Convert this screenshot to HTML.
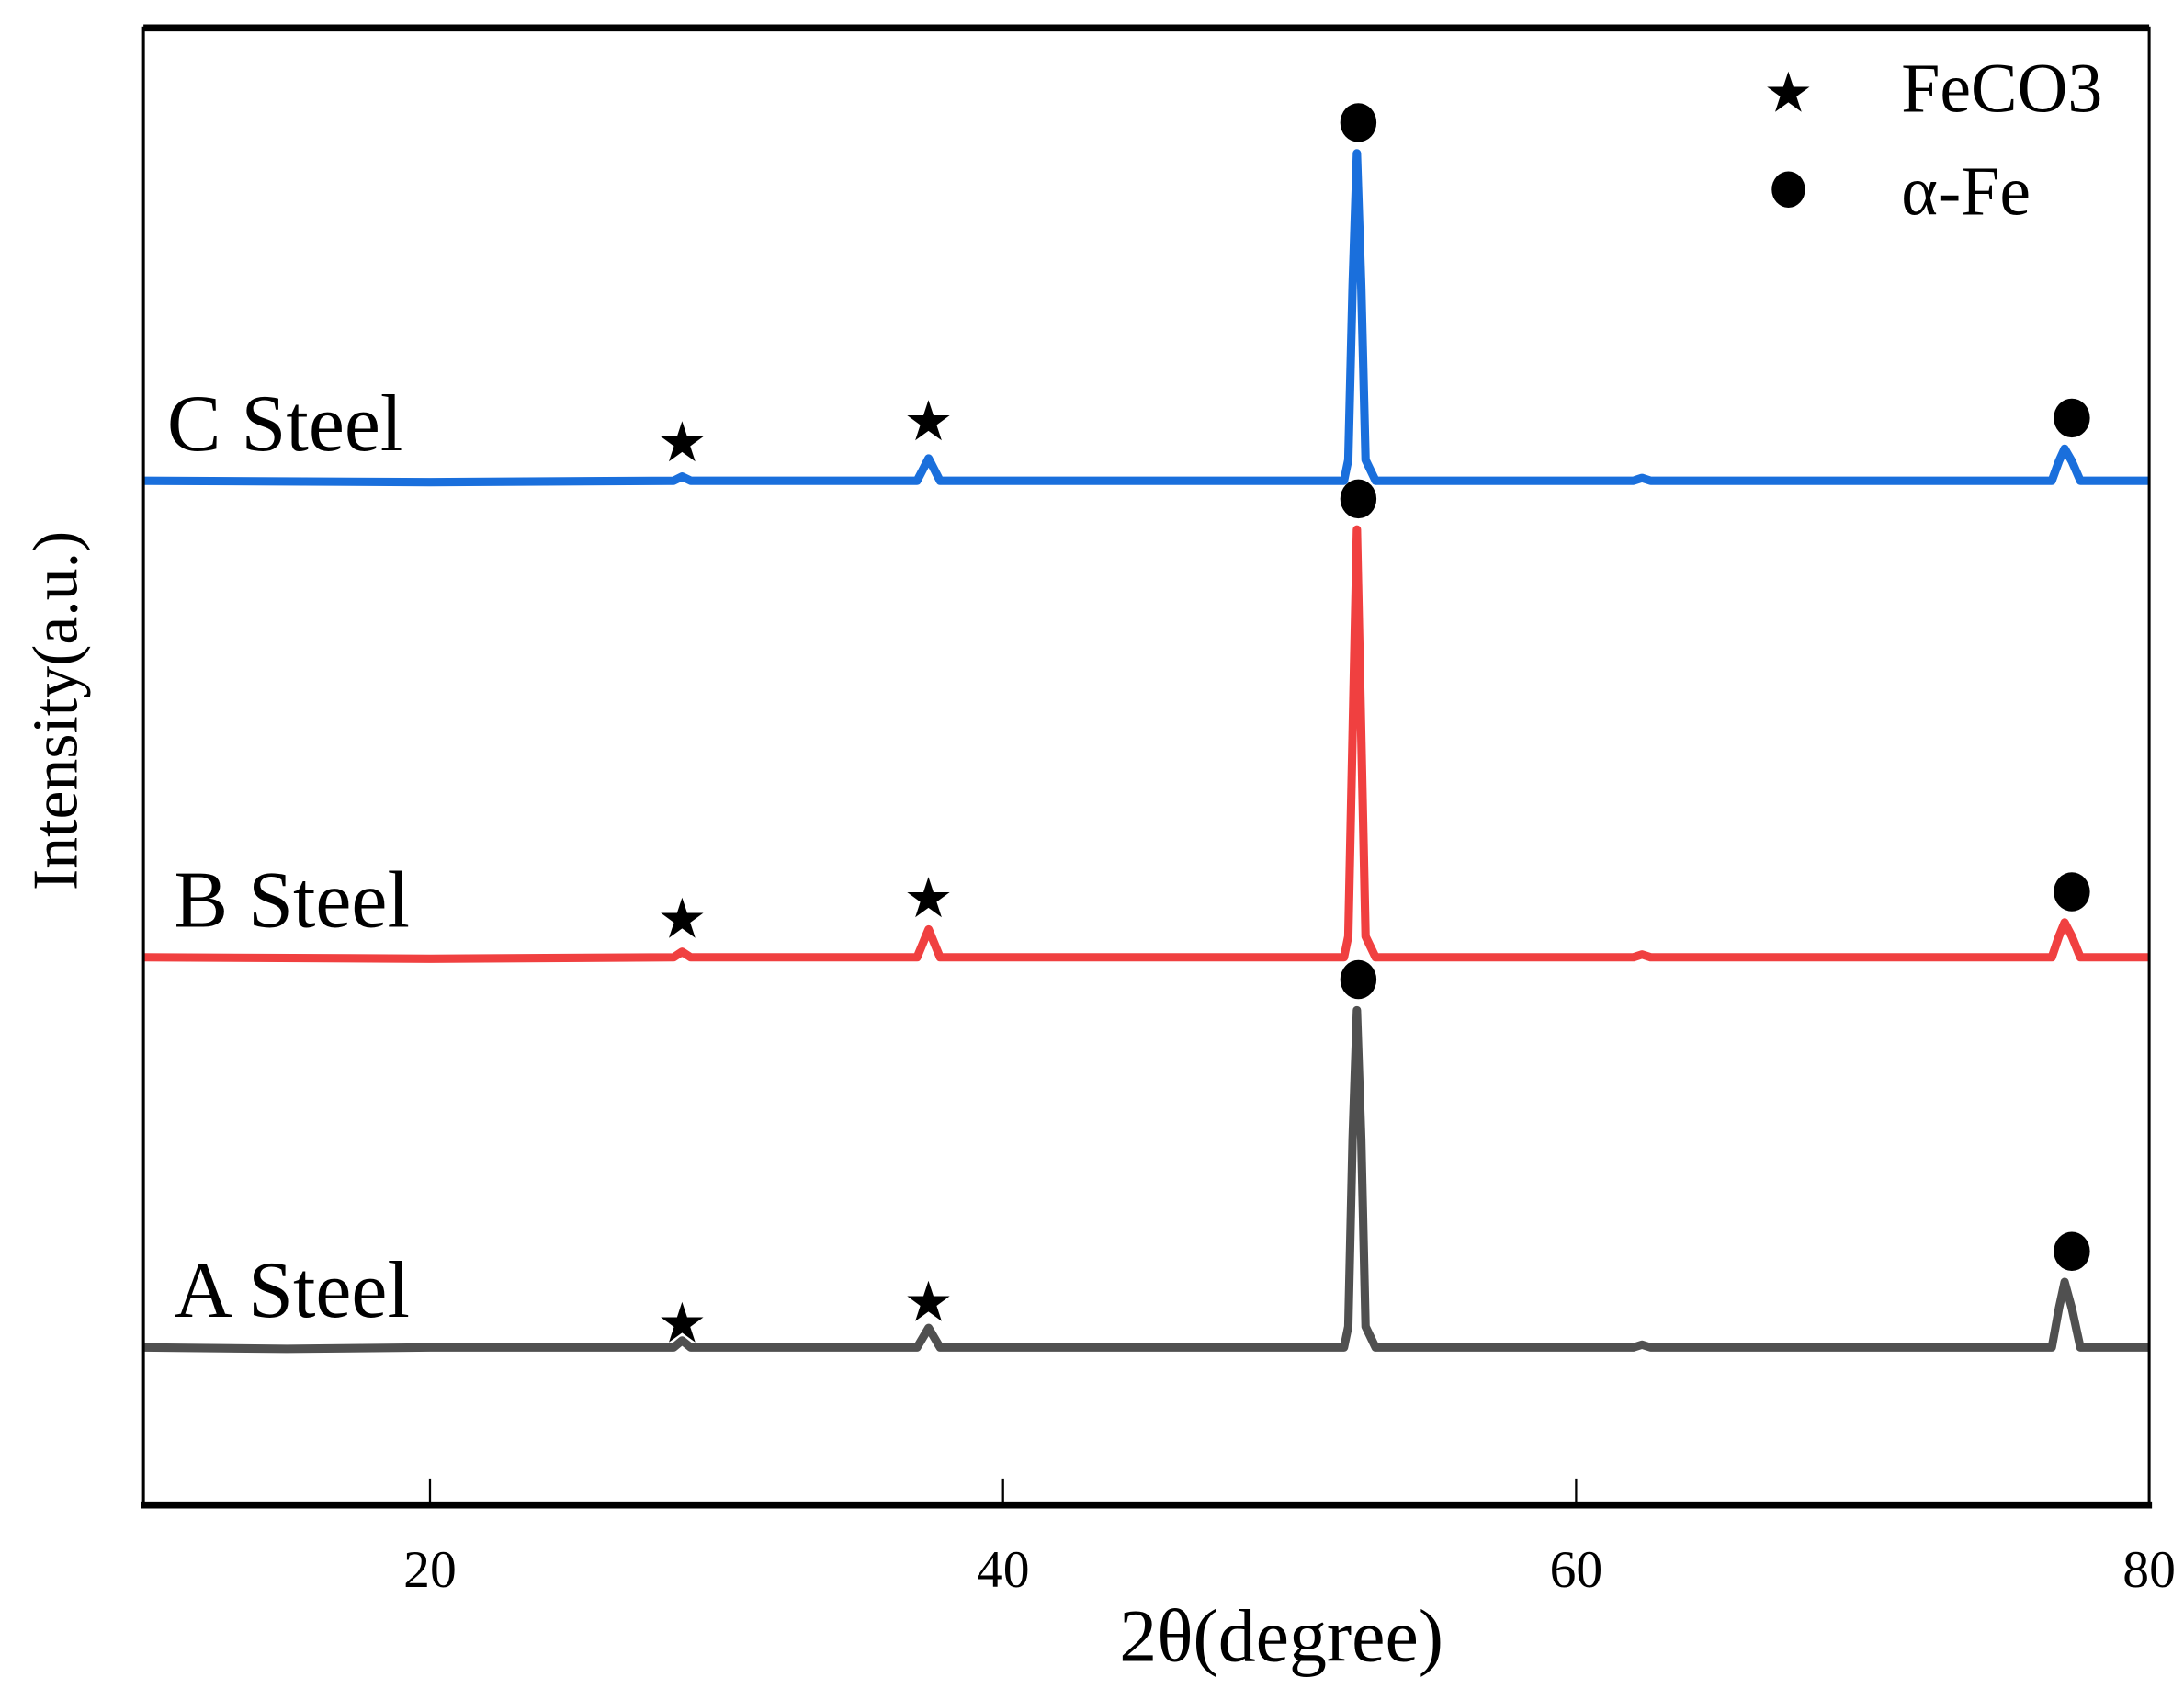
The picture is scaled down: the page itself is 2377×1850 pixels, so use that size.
<!DOCTYPE html>
<html><head><meta charset="utf-8"><style>
html,body{margin:0;padding:0;background:#fff;}
svg{display:block;font-family:"Liberation Serif",serif;}
</style></head><body>
<svg id="chart" width="2377" height="1850" viewBox="0 0 1568 1220" preserveAspectRatio="none" xmlns="http://www.w3.org/2000/svg">
<g id="plot"></g>
</svg>
<script>
const xTicks=[20,40,60,80];
const seriesNames=["A Steel","B Steel","C Steel"];
const seriesColors=["#505050","#f04040","#1a6fdc"];
const seriesOffsets=[113,393,735];
const seriesA=[[10,0],[15,-1],[20,0],[28.5,0],[28.8,5],[29.1,0],[37.0,0],[37.4,14],[37.8,0],[51.9,0],[52.05,15],[52.2,150],[52.35,242],[52.5,150],[52.65,15],[53.0,0],[62.0,0],[62.3,2],[62.6,0],[76.6,0],[76.85,28],[77.05,47],[77.3,28],[77.6,0],[80,0]];
const seriesB=[[10,0],[20,-1],[28.5,0],[28.8,4],[29.1,0],[37.0,0],[37.4,20],[37.8,0],[51.9,0],[52.05,15],[52.2,160],[52.35,307],[52.5,160],[52.65,15],[53.0,0],[62.0,0],[62.3,2],[62.6,0],[76.6,0],[76.85,15],[77.05,25],[77.3,15],[77.6,0],[80,0]];
const seriesC=[[10,0],[20,-1],[28.5,0],[28.8,3],[29.1,0],[37.0,0],[37.4,16],[37.8,0],[51.9,0],[52.05,15],[52.2,140],[52.35,235],[52.5,140],[52.65,15],[53.0,0],[62.0,0],[62.3,2],[62.6,0],[76.6,0],[76.85,14],[77.05,23],[77.3,14],[77.6,0],[80,0]];
const starX=[28.8,37.4];
const starY=[[17,32],[27,42],[27,42]];
const circleX=[52.4,77.3];
const allSeries=[seriesA,seriesB,seriesC];

function drawChart(){
  const L=103,R=1543,T=20,Bt=1080;
  const xs=v=>L+(v-10)/(80-10)*(R-L);
  const ys=v=>Bt-v;
  const NS="http://www.w3.org/2000/svg";
  const g=document.getElementById('plot');
  function mk(tag,attrs){const e=document.createElementNS(NS,tag);for(const k in attrs)e.setAttribute(k,attrs[k]);g.appendChild(e);return e;}

  allSeries.forEach((s,i)=>{
    const d=s.map((p,j)=>(j?'L':'M')+xs(p[0]).toFixed(1)+' '+ys(p[1]+seriesOffsets[i]).toFixed(1)).join(' ');
    const p=mk('path',{d:d,fill:'none',stroke:seriesColors[i],'stroke-width':6,'stroke-linejoin':'round'});
    
    
    const t=mk('text',{x:i==2?120:125,y:ys(seriesOffsets[i])-22,'font-size':58});
    t.textContent=seriesNames[i];
    
    
    starX.forEach((sx,k)=>{
      const st=mk('text',{x:xs(sx),y:ys(seriesOffsets[i]+starY[i][k])+13,'font-size':40,'text-anchor':'middle'});
      st.textContent='★';
      
      
    });
    circleX.forEach((cx)=>{
      const pk=s.reduce((m,p)=>Math.abs(p[0]-cx)<0.5?Math.max(m,p[1]):m,0);
      const c=mk('ellipse',{cx:xs(cx),cy:ys(seriesOffsets[i]+pk+22),rx:13,ry:14,fill:'#000'});
      
      
    });
  });

  const frame=mk('rect',{x:L,y:T,width:R-L,height:Bt-T,fill:'none',stroke:'#000','stroke-width':2});
  
  
  const topBorder=mk('line',{x1:L,y1:T,x2:R,y2:T,stroke:'#000','stroke-width':5});
  
  
  const xa=mk('line',{x1:L-2,y1:Bt,x2:R+2,y2:Bt,stroke:'#000','stroke-width':5});
  
  
  xTicks.forEach(v=>{
    const tk=mk('line',{x1:xs(v),y1:Bt,x2:xs(v),y2:Bt-19,stroke:'#000','stroke-width':1.5});
    
    
    const tl=mk('text',{x:xs(v),y:1139,'font-size':38,'text-anchor':'middle'});
    tl.textContent=v;
    
    
  });
  const xt=mk('text',{x:920,y:1192,'font-size':54,'text-anchor':'middle'});
  xt.textContent='2θ(degree)';
  
  
  const yt=mk('text',{x:0,y:0,'font-size':46,'text-anchor':'middle',transform:'translate(55,510) rotate(-90)'});
  yt.textContent='Intensity(a.u.)';
  
  

  const ls=mk('text',{x:1284,y:80,'font-size':40,'text-anchor':'middle'});
  ls.textContent='★';
  
  
  const lt=mk('text',{x:1365,y:80,'font-size':50});
  lt.textContent='FeCO3';
  
  
  const lc=mk('ellipse',{cx:1284,cy:136,rx:12,ry:13,fill:'#000'});
  
  
  const lt2=mk('text',{x:1365,y:154,'font-size':50});
  lt2.textContent='α-Fe';
  
  
}
drawChart();
</script>
</body></html>
